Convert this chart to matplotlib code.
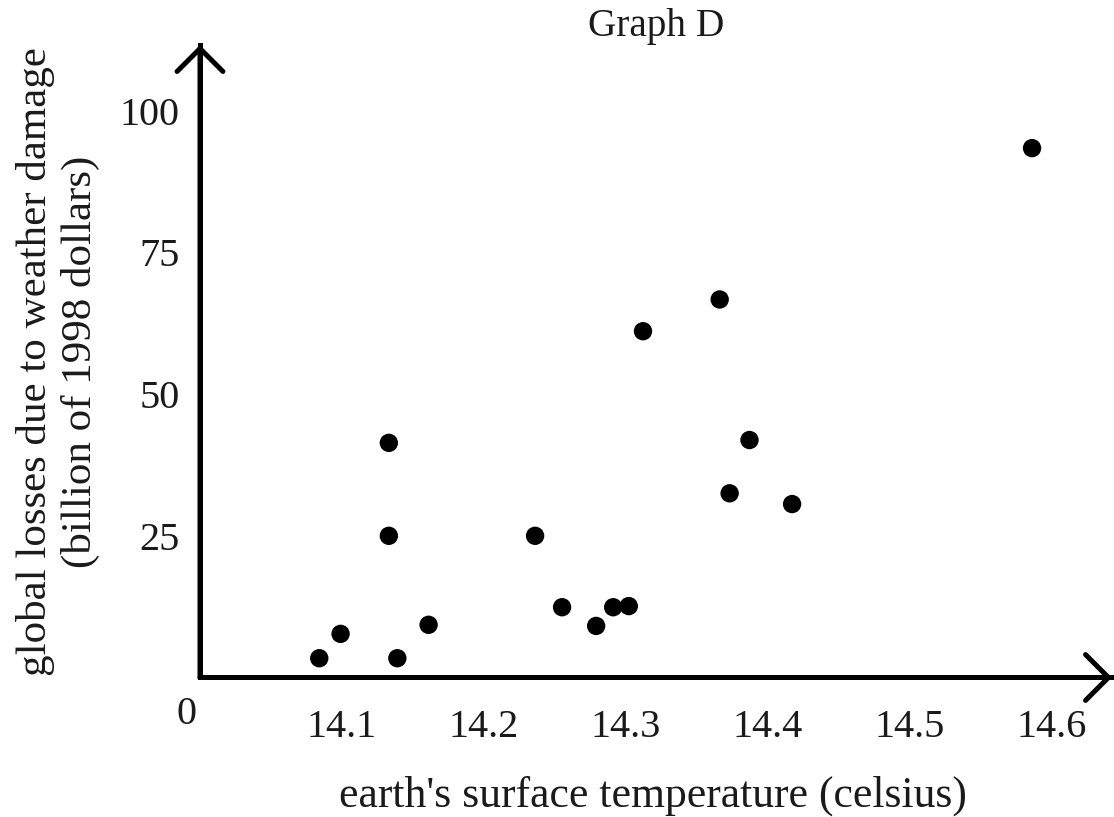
import matplotlib
matplotlib.use("Agg")
import matplotlib.pyplot as plt

# values
temperature = [14.084, 14.099, 14.133, 14.133, 14.139, 14.161, 14.236, 14.255,
               14.279, 14.291, 14.302, 14.312, 14.366, 14.373, 14.387, 14.417, 14.586]
losses = [3.4, 7.7, 41.4, 25.0, 3.4, 9.3, 25.0, 12.4,
          9.1, 12.4, 12.6, 61.1, 66.7, 32.5, 41.9, 30.6, 93.4]

x_ticks = [14.1, 14.2, 14.3, 14.4, 14.5, 14.6]
x_tick_labels = ['14.1', '14.2', '14.3', '14.4', '14.5', '14.6']
y_ticks = [25, 50, 75, 100]
y_tick_labels = ['25', '50', '75', '100']

plt.rcParams['font.family'] = ['Liberation Serif', 'DejaVu Serif']
text_col = '#1a1a1a'

fig = plt.figure(figsize=(11.14, 8.17), dpi=100)
ax = fig.add_axes([0.17953, 0.17075, 0.81867, 0.77417])

ax.scatter(temperature, losses, s=175, color='black', edgecolors='none',
           zorder=3, clip_on=False)

ax.set_xlim(14.0, 14.6423)
ax.set_ylim(0, 111.6)

ax.set_xticks(x_ticks)
ax.set_xticklabels(x_tick_labels)
ax.set_yticks(y_ticks)
ax.set_yticklabels(y_tick_labels)
ax.tick_params(axis='x', length=0, pad=23, labelsize=29, labelcolor=text_col)
ax.tick_params(axis='y', length=0, pad=14.4, labelsize=29, labelcolor=text_col)

for side in ['top', 'right']:
    ax.spines[side].set_visible(False)
for side in ['left', 'bottom']:
    ax.spines[side].set_linewidth(3.6)
    ax.spines[side].set_capstyle('projecting')
    ax.spines[side].set_color('black')

# axis lines with open chevron heads
head = dict(arrowstyle='->, head_length=16.5, head_width=16.5', lw=3.6,
            color='black', shrinkA=0, shrinkB=0, mutation_scale=1,
            joinstyle='miter')
ax.annotate('', xy=(1, 0), xytext=(0, 0), xycoords='axes fraction',
            arrowprops=head, annotation_clip=False)
ax.annotate('', xy=(0, 1), xytext=(0, 0), xycoords='axes fraction',
            arrowprops=head, annotation_clip=False)

# shared zero at the corner
ax.annotate('0', xy=(0, 0), xycoords='axes fraction', xytext=(-9.4, -27),
            textcoords='offset points', ha='center', va='center',
            fontsize=29, color=text_col, annotation_clip=False)

ax.set_xlabel("earth's surface temperature (celsius)", fontsize=31.5, color=text_col)
ax.xaxis.set_label_coords(0.4967, -0.1557)
ax.set_ylabel("global losses due to weather damage\n(billion of 1998 dollars)",
              fontsize=31, color=text_col)
ax.yaxis.set_label_coords(-0.1096, 0.4988)

ax.set_title('Graph D', fontsize=28.3, color=text_col, pad=5)

fig.savefig('out.png', dpi=100)
